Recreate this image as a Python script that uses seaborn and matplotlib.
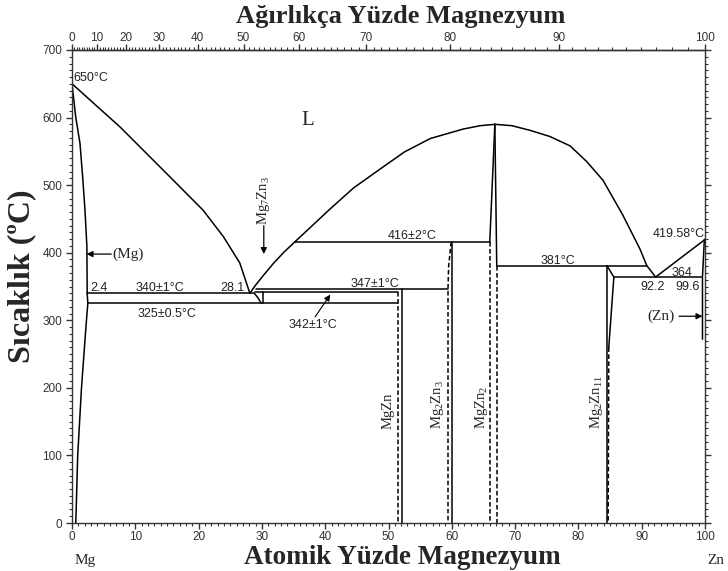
import numpy as np
import pandas as pd
import matplotlib
matplotlib.use("Agg")
import matplotlib.pyplot as plt
import seaborn as sns
from matplotlib.ticker import MultipleLocator, FixedLocator

# ---------------- data (atomic % Zn, temperature °C) ----------------
mg_liquidus_x = [0, 7.6, 15.5, 20.7, 23.9, 26.5, 28.1]
mg_liquidus_t = [650, 586, 512, 463, 424, 385, 340]

mid_liquidus_x = [28.1, 29.0, 30.2, 31.8, 33.5, 35.2, 40.8, 44.5, 48.7, 52.5, 56.6, 61.8, 64.5, 66.8]
mid_liquidus_t = [340, 352, 366, 384, 401, 416, 465, 496, 524, 549, 569, 583, 588, 590]

zn_side_liquidus_x = [66.8, 69.5, 72.4, 75.5, 78.7, 81.3, 83.9, 87.0, 89.7, 90.8, 92.2]
zn_side_liquidus_t = [590, 588, 581, 572, 558, 535, 507, 456, 406, 381, 364]

zn_liquidus_x = [92.2, 100]
zn_liquidus_t = [364, 419.58]

mg_solidus_x = [0, 0.6, 1.26, 1.7, 2.05, 2.35, 2.4]
mg_solidus_t = [650, 600, 562, 510, 463, 410, 340]

mg_solvus_x = [2.4, 2.5, 2.2, 1.5, 0.9, 0.6]
mg_solvus_t = [340, 325, 290, 200, 100, 0]

zn_solidus_x = [99.9, 99.6, 99.6]
zn_solidus_t = [419.58, 364, 272]

# invariant (horizontal) lines: temperature, x start, x end
invariant_t = [340, 325, 342, 347, 416, 381, 364]
invariant_x0 = [2.4, 2.5, 28.9, 29.0, 35.2, 67.1, 85.6]
invariant_x1 = [28.8, 51.5, 51.5, 59.4, 66.0, 90.8, 99.6]

mg7zn3_left_x = [28.8, 29.4, 29.9]
mg7zn3_left_t = [340, 333, 325]
mg7zn3_right_x = [30.2, 30.2]
mg7zn3_right_t = [342, 325]

mgzn_solid_x = [52.1, 52.1]
mgzn_solid_t = [347, 0]
mgzn_dash_x = [51.5, 51.5]
mgzn_dash_t = [342, 0]

mg2zn3_solid_x = [60.0, 60.0]
mg2zn3_solid_t = [416, 0]
mg2zn3_dash_x = [59.9, 59.5, 59.4, 59.4]
mg2zn3_dash_t = [416, 380, 347, 0]

mgzn2_left_x = [66.8, 66.0]
mgzn2_left_t = [590, 416]
mgzn2_right_x = [66.8, 67.1]
mgzn2_right_t = [590, 381]
mgzn2_dash_left_x = [66.0, 66.0]
mgzn2_dash_left_t = [416, 0]
mgzn2_dash_right_x = [67.1, 67.1]
mgzn2_dash_right_t = [381, 0]

mg2zn11_solid_x = [84.5, 84.5]
mg2zn11_solid_t = [381, 0]
mg2zn11_edge_x = [84.5, 85.6, 84.8]
mg2zn11_edge_t = [381, 364, 260]
mg2zn11_dash_x = [84.8, 84.7]
mg2zn11_dash_t = [260, 0]

bottom_ticks = [0, 10, 20, 30, 40, 50, 60, 70, 80, 90, 100]
left_ticks = [0, 100, 200, 300, 400, 500, 600, 700]
top_ticks = [0, 10, 20, 30, 40, 50, 60, 70, 80, 90, 100]

M_ZN = 65.38
M_MG = 24.305


def at2wt(a):
    a = np.asarray(a, dtype=float)
    return 100 * a * M_ZN / (a * M_ZN + (100 - a) * M_MG)


def wt2at(w):
    w = np.asarray(w, dtype=float)
    return 100 * (w / M_ZN) / (w / M_ZN + (100 - w) / M_MG)


solid = {
    "mg_liq": (mg_liquidus_x, mg_liquidus_t),
    "mid_liq": (mid_liquidus_x, mid_liquidus_t),
    "zn_side_liq": (zn_side_liquidus_x, zn_side_liquidus_t),
    "zn_liq": (zn_liquidus_x, zn_liquidus_t),
    "mg_sol": (mg_solidus_x, mg_solidus_t),
    "mg_solv": (mg_solvus_x, mg_solvus_t),
    "zn_sol": (zn_solidus_x, zn_solidus_t),
    "m73l": (mg7zn3_left_x, mg7zn3_left_t),
    "m73r": (mg7zn3_right_x, mg7zn3_right_t),
    "mgzn": (mgzn_solid_x, mgzn_solid_t),
    "m23": (mg2zn3_solid_x, mg2zn3_solid_t),
    "mz2l": (mgzn2_left_x, mgzn2_left_t),
    "mz2r": (mgzn2_right_x, mgzn2_right_t),
    "m211": (mg2zn11_solid_x, mg2zn11_solid_t),
    "m211e": (mg2zn11_edge_x, mg2zn11_edge_t),
}
for i, (t, x0, x1) in enumerate(zip(invariant_t, invariant_x0, invariant_x1)):
    solid[f"inv{i}"] = ([x0, x1], [t, t])

dashed = {
    "mgzn_d": (mgzn_dash_x, mgzn_dash_t),
    "m23_d": (mg2zn3_dash_x, mg2zn3_dash_t),
    "mz2l_d": (mgzn2_dash_left_x, mgzn2_dash_left_t),
    "mz2r_d": (mgzn2_dash_right_x, mgzn2_dash_right_t),
    "m211_d": (mg2zn11_dash_x, mg2zn11_dash_t),
}


def to_df(d):
    rows = []
    for name, (xs, ts) in d.items():
        for k, (x, t) in enumerate(zip(xs, ts)):
            rows.append({"seg": name, "order": k, "x": x, "T": t})
    return pd.DataFrame(rows)


df_solid = to_df(solid)
df_dash = to_df(dashed)

# ---------------- plotting ----------------
sns.set_style("ticks")
plt.rcParams["font.family"] = ["Liberation Sans", "DejaVu Sans"]
plt.rcParams["axes.linewidth"] = 1.0
plt.rcParams["mathtext.fontset"] = "custom"
plt.rcParams["mathtext.rm"] = "Liberation Serif"
plt.rcParams["mathtext.it"] = "Liberation Serif:italic"
plt.rcParams["mathtext.bf"] = "Liberation Serif:bold"

fig = plt.figure(figsize=(7.28, 5.71), dpi=100)
ax = fig.add_axes([72 / 728, 1 - 523 / 571, 633 / 728, 473 / 571])

sns.lineplot(data=df_solid, x="x", y="T", units="seg", estimator=None, sort=False,
             color="black", lw=1.1, legend=False, ax=ax)
sns.lineplot(data=df_dash, x="x", y="T", units="seg", estimator=None, sort=False,
             color="black", lw=1.1, linestyle=(0, (3, 1.6)), legend=False, ax=ax)

ax.set_xlim(0, 100)
ax.set_ylim(0, 700)
ax.set_xlabel("")
ax.set_ylabel("")
for s in ax.spines.values():
    s.set_visible(True)
    s.set_color("#333333")
    s.set_linewidth(1.0)

ax.xaxis.set_major_locator(FixedLocator(bottom_ticks))
ax.xaxis.set_minor_locator(MultipleLocator(1))
ax.yaxis.set_major_locator(FixedLocator(left_ticks))
ax.yaxis.set_minor_locator(MultipleLocator(10))
ax.tick_params(which="both", direction="out", colors="#333333", top=False,
               right=True, labelright=False)
ax.tick_params(which="major", length=4, width=1.0, labelsize=8.5)
ax.tick_params(axis="x", which="major", pad=2)
ax.tick_params(axis="y", which="major", pad=3)
ax.tick_params(which="minor", length=2, width=0.8)

sec = ax.secondary_xaxis("top", functions=(at2wt, wt2at))
sec.xaxis.set_major_locator(FixedLocator(top_ticks))
sec.xaxis.set_minor_locator(MultipleLocator(1))
sec.tick_params(which="both", direction="out", colors="#333333")
sec.tick_params(which="major", length=4, width=1.0, labelsize=8.5, pad=0.5)
sec.tick_params(which="minor", length=2, width=0.8)
sec.spines["top"].set_linewidth(1.0)
sec.spines["top"].set_color("#333333")

serif = ["Liberation Serif", "DejaVu Serif"]
sans = ["Liberation Sans", "DejaVu Sans"]
small = dict(fontsize=9, family=sans, color="#222222")

ax.text(0.2, 658, "650°C", ha="left", va="center", **small)
ax.text(37.3, 596, "L", ha="center", va="center", fontsize=15, family=serif)
ax.text(6.3, 398, "(Mg)", ha="left", va="center", fontsize=11, family=serif)
ax.annotate("", xy=(2.3, 398), xytext=(6.2, 398),
            arrowprops=dict(arrowstyle="-|>", color="black", lw=0.9,
                            mutation_scale=9, shrinkA=0, shrinkB=0))
ax.text(4.2, 348, "2.4", ha="center", va="center", **small)
ax.text(13.9, 348, "340±1°C", ha="center", va="center", **small)
ax.text(25.4, 348, "28.1", ha="center", va="center", **small)
ax.text(15.0, 309, "325±0.5°C", ha="center", va="center", **small)
ax.text(38.1, 293, "342±1°C", ha="center", va="center", **small)
ax.annotate("", xy=(40.8, 338), xytext=(38.4, 305),
            arrowprops=dict(arrowstyle="-|>", color="black", lw=0.8,
                            mutation_scale=9, shrinkA=0, shrinkB=0))
ax.text(47.9, 354, "347±1°C", ha="center", va="center", **small)
ax.text(53.7, 424, "416±2°C", ha="center", va="center", **small)
ax.text(76.7, 388, "381°C", ha="center", va="center", **small)
ax.text(95.8, 427, "419.58°C", ha="center", va="center", **small)
ax.text(96.4, 370, "364", ha="center", va="center", **small)
ax.text(91.7, 350, "92.2", ha="center", va="center", **small)
ax.text(97.2, 350, "99.6", ha="center", va="center", **small)
ax.text(93.0, 306, "(Zn)", ha="center", va="center", fontsize=11, family=serif)
ax.annotate("", xy=(99.6, 306), xytext=(95.9, 306),
            arrowprops=dict(arrowstyle="-|>", color="black", lw=0.9,
                            mutation_scale=9, shrinkA=0, shrinkB=0))

ax.text(30.2, 478, r"Mg$_7$Zn$_3$", ha="center", va="center", rotation=90,
        fontsize=10.5, family=serif)
ax.annotate("", xy=(30.3, 398), xytext=(30.3, 440),
            arrowprops=dict(arrowstyle="-|>", color="black", lw=0.9,
                            mutation_scale=9, shrinkA=0, shrinkB=0))

rot = dict(ha="center", va="bottom", rotation=90, fontsize=10.5, family=serif)
ax.text(49.9, 139, "MgZn", **rot)
ax.text(57.8, 139, r"Mg$_2$Zn$_3$", **rot)
ax.text(64.7, 139, r"MgZn$_2$", **rot)
ax.text(82.8, 139, r"Mg$_2$Zn$_{11}$", **rot)

ax.text(2.05, -56, "Mg", ha="center", va="center", fontsize=11, family=serif,
        clip_on=False)
ax.text(101.7, -56, "Zn", ha="center", va="center", fontsize=11, family=serif,
        clip_on=False)

fig.text(402 / 728, 1 - 557 / 571, "Atomik Yüzde Magnezyum", ha="center",
         va="center", fontsize=19.5, fontweight="bold", family=serif)
fig.text(401 / 728, 1 - 16 / 571, "Ağırlıkça Yüzde Magnezyum", ha="center",
         va="center", fontsize=19, fontweight="bold", family=serif)
fig.text(22 / 728, 1 - 276 / 571, "Sıcaklık (ºC)", ha="center", va="center",
         rotation=90, fontsize=23, fontweight="bold", family=serif)

fig.savefig("out.png", dpi=100, facecolor="white")
